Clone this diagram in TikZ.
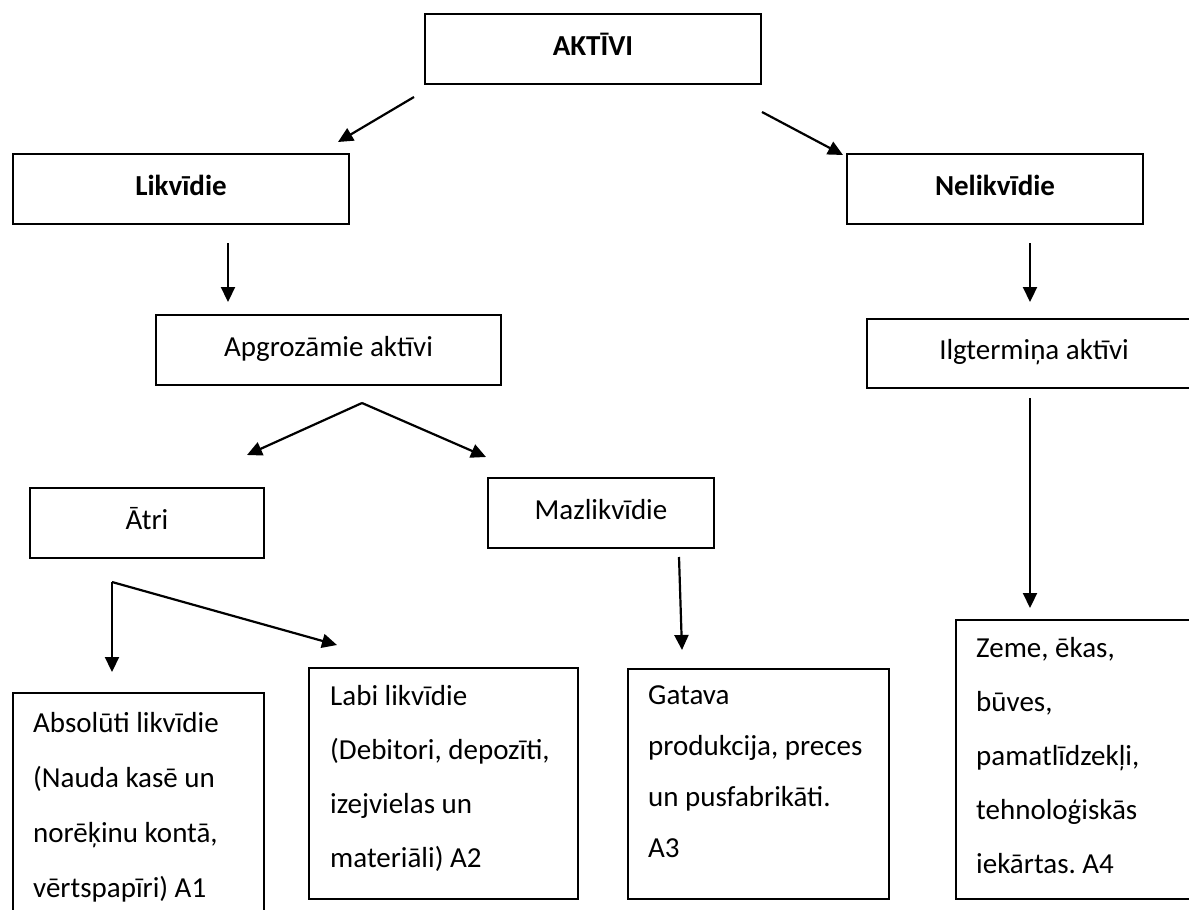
\documentclass[tikz,border=0pt]{standalone}
\usepackage{fontspec}
\setmainfont{Carlito}
\usetikzlibrary{arrows.meta}
\frenchspacing

\begin{document}
\begin{tikzpicture}[x=1pt, y=-1pt,
		box/.style={draw, line width=2pt, anchor=north west, inner sep=0pt, text height=20pt, text depth=8pt, font=\fontsize{29}{35}\selectfont},
		boxtext/.style={anchor=north west, inner sep=0pt, text width=235pt, align=flush left, font=\fontsize{29}{54}\selectfont},
		arr/.style={line width=2.2pt, -{Triangle[length=15pt, width=14pt]}}]

	\useasboundingbox (0,0) rectangle (1189,910);
	\clip (0,0) rectangle (1189,910);

	% top level
	\node[box, minimum width=336, minimum height=70] (aktivi) at (424,13) {\textbf{AKTĪVI}};
	\node[box, minimum width=336, minimum height=70] (likv) at (12,153) {\textbf{Likvīdie}};
	\node[box, minimum width=296, minimum height=70] (nelikv) at (846,153) {\textbf{Nelikvīdie}};

	\coordinate (ak-l1) at (414,97);
	\coordinate (ak-l2) at (338,142);
	\coordinate (ak-n1) at (762,112);
	\coordinate (ak-n2) at (843,155);
	\draw[arr] (ak-l1) -- (ak-l2);
	\draw[arr] (ak-n1) -- (ak-n2);

	% second level
	\node[box, minimum width=345, minimum height=70] (apgroz) at (155,314) {Apgrozāmie aktīvi};
	\node[box, minimum width=334, minimum height=69] (ilgt) at (866,318) {Ilgtermiņa aktīvi};

	\coordinate (li-a1) at (228,243);
	\coordinate (li-a2) at (228,302);
	\coordinate (ne-i1) at (1030,243);
	\coordinate (ne-i2) at (1030,302);
	\draw[arr] (li-a1) -- (li-a2);
	\draw[arr] (ne-i1) -- (ne-i2);

	% third level
	\node[box, minimum width=234, minimum height=70] (atri) at (29,487) {Ātri};
	\node[box, minimum width=226, minimum height=70] (mazl) at (487,477) {Mazlikvīdie};

	\coordinate (ap-top) at (362,403);
	\coordinate (ap-l) at (247,455);
	\coordinate (ap-r) at (486,457);
	\draw[arr] (ap-top) -- (ap-l);
	\draw[arr] (ap-top) -- (ap-r);

	% bottom boxes
	\node[box, minimum width=251, minimum height=240] (absl) at (12,692) {};
	\node[boxtext, font=\fontsize{29}{55}\selectfont] (absl-t) at ([xshift=21pt, yshift=-2pt]absl.north west) {\strut Absolūti likvīdie\\(Nauda kasē un\\norēķinu kontā,\\vērtspapīri) A1};

	\node[box, minimum width=269, minimum height=231] (labi) at (308,667) {};
	\node[boxtext] (labi-t) at ([xshift=22pt]labi.north west) {\strut Labi likvīdie\\(Debitori, depozīti,\\izejvielas un\\materiāli) A2};

	\node[box, minimum width=261, minimum height=230] (gat) at (627,668) {};
	\node[boxtext, font=\fontsize{29}{51}\selectfont] (gat-t) at ([xshift=21pt, yshift=-1pt]gat.north west) {\strut Gatava\\produkcija, preces\\un pusfabrikāti.\\A3};

	\node[box, minimum width=260, minimum height=279] (zeme) at (955,619) {};
	\node[boxtext] (zeme-t) at ([xshift=21pt]zeme.north west) {\strut Zeme, ēkas,\\būves,\\pamatlīdzekļi,\\tehnoloģiskās\\iekārtas. A4};

	\coordinate (at-c) at (112,582);
	\coordinate (at-d) at (112,672);
	\coordinate (at-r) at (337,645);
	\draw[arr] (at-c) -- (at-d);
	\draw[arr] (at-c) -- (at-r);

	\coordinate (ma-1) at (679,557);
	\coordinate (ma-2) at (682,650);
	\draw[arr] (ma-1) -- (ma-2);

	\coordinate (il-1) at (1030,398);
	\coordinate (il-2) at (1030,608);
	\draw[arr] (il-1) -- (il-2);

\end{tikzpicture}
\end{document}
